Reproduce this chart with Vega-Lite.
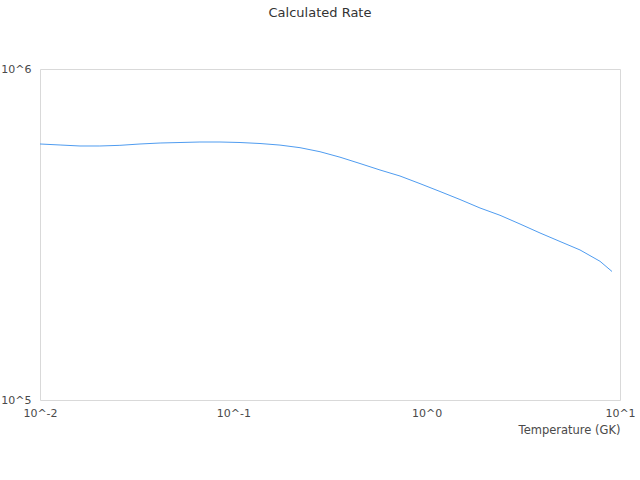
{
  "$schema": "https://vega.github.io/schema/vega-lite/v6.json",
  "width": 580,
  "height": 331,
  "autosize": {"type": "none"},
  "padding": {"left": 40, "top": 69, "right": 20, "bottom": 80},
  "background": "white",
  "title": {
    "text": "Calculated Rate",
    "font": "DejaVu Sans",
    "fontSize": 13,
    "fontWeight": "normal",
    "color": "#333333",
    "anchor": "middle",
    "offset": 43,
    "dx": -10
  },
  "config": {
    "view": {"stroke": "#d9d9d9", "strokeWidth": 1},
    "axis": {
      "labelFont": "DejaVu Sans",
      "labelFontSize": 11,
      "labelColor": "#4a4a4a",
      "titleFont": "DejaVu Sans",
      "titleFontSize": 11.5,
      "titleFontWeight": "normal",
      "titleColor": "#4a4a4a",
      "domain": false,
      "ticks": false,
      "tickSize": 0,
      "grid": false
    }
  },
  "data": {
    "values": [
      {"T": 0.01, "rate": 593500},
      {"T": 0.0127, "rate": 589400},
      {"T": 0.0161, "rate": 585300},
      {"T": 0.0204, "rate": 585300},
      {"T": 0.0259, "rate": 588000},
      {"T": 0.0329, "rate": 593500},
      {"T": 0.0418, "rate": 597600},
      {"T": 0.053, "rate": 599700},
      {"T": 0.0672, "rate": 601800},
      {"T": 0.0853, "rate": 601800},
      {"T": 0.1083, "rate": 599700},
      {"T": 0.1374, "rate": 595500},
      {"T": 0.1743, "rate": 589000},
      {"T": 0.2212, "rate": 578500},
      {"T": 0.2807, "rate": 562500},
      {"T": 0.3562, "rate": 541500},
      {"T": 0.452, "rate": 518200},
      {"T": 0.5736, "rate": 495300},
      {"T": 0.7278, "rate": 475000},
      {"T": 0.9237, "rate": 450500},
      {"T": 1.172, "rate": 426500},
      {"T": 1.487, "rate": 403400},
      {"T": 1.887, "rate": 380300},
      {"T": 2.395, "rate": 361500},
      {"T": 3.039, "rate": 340200},
      {"T": 3.857, "rate": 319600},
      {"T": 4.894, "rate": 301200},
      {"T": 6.21, "rate": 284000},
      {"T": 7.88, "rate": 262500},
      {"T": 9.09, "rate": 244500}
    ]
  },
  "mark": {"type": "line", "color": "#4f9cf0", "strokeWidth": 1},
  "encoding": {
    "x": {
      "field": "T",
      "type": "quantitative",
      "title": "Temperature (GK)",
      "scale": {"type": "log", "domain": [0.01, 10], "nice": false},
      "axis": {
        "values": [0.01, 0.1, 1, 10],
        "labelExpr": "'10^' + round(log(datum.value) / LN10)",
        "labelFlush": false,
        "labelPadding": 7,
        "titleAnchor": "end",
        "titlePadding": 6
      }
    },
    "y": {
      "field": "rate",
      "type": "quantitative",
      "title": null,
      "scale": {"type": "log", "domain": [100000, 1000000], "nice": false},
      "axis": {
        "values": [100000, 1000000],
        "labelExpr": "'10^' + round(log(datum.value) / LN10)",
        "labelPadding": 9,
        "labelBaseline": "middle"
      }
    }
  }
}
